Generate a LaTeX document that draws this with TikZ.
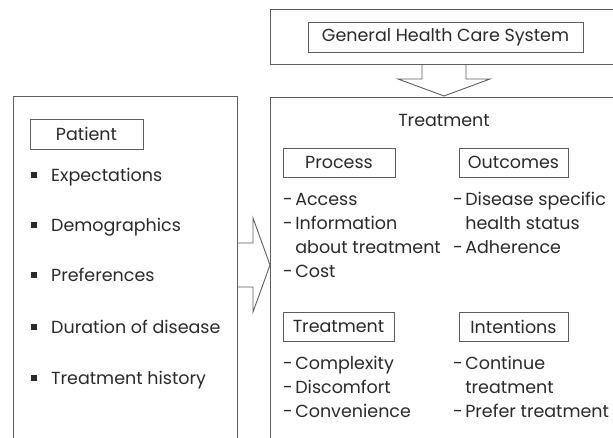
\documentclass[tikz,border=0pt]{standalone}
\usepackage{fontspec}
\setmainfont{Poppins}
\definecolor{linegray}{HTML}{5E5E5E}
\definecolor{txt}{HTML}{2A2A2A}
\newcommand{\fs}{\fontsize{17.5}{21}\selectfont}
\newcommand{\dsh}{-\kern2.5pt}
\begin{document}
\begin{tikzpicture}[x=1pt,y=-1pt,
  frame/.style={draw=linegray, line width=0.9pt, line join=miter},
  tbox/.style={draw=linegray, line width=0.8pt, inner sep=0pt, minimum height=29pt, font=\fs, text=txt},
  item/.style={anchor=base west, inner sep=0pt, font=\fs, text=txt},
  ttl/.style={anchor=base, inner sep=0pt, font=\fs, text=txt},
  bul/.style={fill=txt, minimum size=6pt, inner sep=0pt, anchor=center}]
\useasboundingbox (0,0) rectangle (613,438);
\clip (0,0) rectangle (613,438);
\fill[white] (0,0) rectangle (613,438);
% top frame
\draw[frame] (620,9) -- (270,9) -- (270,64) -- (620,64);
\node[tbox, minimum width=275pt, minimum height=30pt] (ghcs) at (445.5,37) {General Health Care System};
% down block arrow
\draw[frame] (422,64) -- (422,79) -- (398,79) -- (444,96) -- (490,79) -- (466,79) -- (466,64);
% left frame
\draw[frame] (13,440) -- (13,96) -- (237,96) -- (237,440);
% right frame
\draw[frame] (270,440) -- (270,97) -- (620,97);
% right block arrow
\draw[frame] (237,243) -- (253,243) -- (253,218) -- (270,265) -- (253,312) -- (253,287) -- (237,287);
% patient
\node[tbox, minimum width=113pt, minimum height=30pt] (patient) at (86.5,134) {Patient};
\node[bul] (b1) at (34,175.5) {};
\node[item] (p1) at (51,182) {Expectations};
\node[bul] (b2) at (34,225.5) {};
\node[item] (p2) at (51,232) {Demographics};
\node[bul] (b3) at (34,275.5) {};
\node[item] (p3) at (51,282) {Preferences};
\node[bul] (b4) at (34,327) {};
\node[item] (p4) at (51,333.5) {Duration of disease};
\node[bul] (b5) at (34,378) {};
\node[item] (p5) at (51,384.5) {Treatment history};
% treatment
\node[ttl] (trt) at (444,127) {Treatment};
\node[tbox, minimum width=112pt] (proc) at (339,162.5) {Process};
\node[tbox, minimum width=109pt] (outc) at (513.5,162.5) {Outcomes};
\node[tbox, minimum width=111pt] (trtb) at (338.5,326.5) {Treatment};
\node[tbox, minimum width=109pt] (intn) at (513.5,326.5) {Intentions};
\node[item] (a1) at (283,205.5) {\dsh Access};
\node[item] (a2) at (283,229.5) {\dsh Information};
\node[item] (a3) at (283,253.5) {\phantom{\dsh}about treatment};
\node[item] (a4) at (283,277.5) {\dsh Cost};
\node[item] (o1) at (453,205.5) {\dsh Disease specific};
\node[item] (o2) at (453,229.5) {\phantom{\dsh}health status};
\node[item] (o3) at (453,253.5) {\dsh Adherence};
\node[item] (c1) at (283,369.5) {\dsh Complexity};
\node[item] (c2) at (283,393.5) {\dsh Discomfort};
\node[item] (c3) at (283,417.5) {\dsh Convenience};
\node[item] (i1) at (453,369.5) {\dsh Continue};
\node[item] (i2) at (453,393.5) {\phantom{\dsh}treatment};
\node[item] (i3) at (453,417.5) {\dsh Prefer treatment};
\end{tikzpicture}
\end{document}
